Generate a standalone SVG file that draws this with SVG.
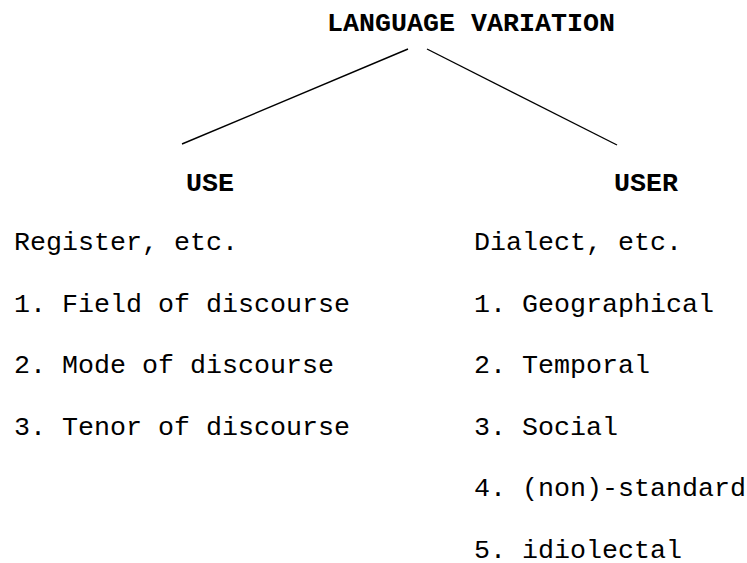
<svg xmlns="http://www.w3.org/2000/svg" width="747" height="563" viewBox="0 0 747 563">
  <style>
    text { font-family: "Liberation Mono", "Courier New", monospace; fill: #000; }
    .head { font-size: 26.67px; font-weight: bold; }
    .item { font-size: 26.67px; }
    .edge { stroke: #000; stroke-width: 1.4; fill: none; }
  </style>
  <rect width="747" height="563" fill="#fff"/>
  <g id="connectors">
    <line class="edge" x1="408" y1="49" x2="182" y2="144"/>
    <line class="edge" x1="427" y1="49" x2="617" y2="145"/>
  </g>
  <g id="root">
    <text class="head" x="327" y="31">LANGUAGE VARIATION</text>
  </g>
  <g id="use">
    <text class="head" x="186" y="191">USE</text>
    <text class="item" x="14" y="250">Register, etc.</text>
    <text class="item" x="14" y="311.5">1. Field of discourse</text>
    <text class="item" x="14" y="373">2. Mode of discourse</text>
    <text class="item" x="14" y="434.5">3. Tenor of discourse</text>
  </g>
  <g id="user">
    <text class="head" x="614" y="191">USER</text>
    <text class="item" x="474" y="250">Dialect, etc.</text>
    <text class="item" x="474" y="311.5">1. Geographical</text>
    <text class="item" x="474" y="373">2. Temporal</text>
    <text class="item" x="474" y="434.5">3. Social</text>
    <text class="item" x="474" y="496">4. (non)-standard</text>
    <text class="item" x="474" y="557.5">5. idiolectal</text>
  </g>
</svg>
